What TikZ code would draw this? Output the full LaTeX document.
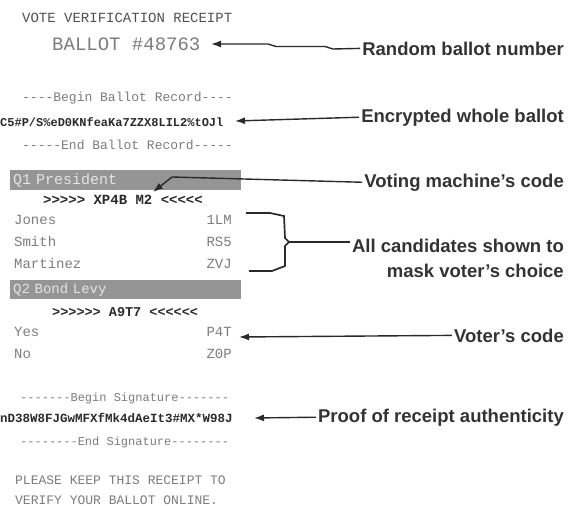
\documentclass[tikz,border=0pt]{standalone}
\usepackage{fontspec}
\setmainfont{Liberation Sans}
\setsansfont{Liberation Sans}
\setmonofont{Liberation Mono}
\usetikzlibrary{arrows.meta}
\definecolor{ink}{HTML}{7C7C7C}
\definecolor{darkink}{HTML}{2A2A2A}
\definecolor{titleink}{HTML}{505050}
\definecolor{lab}{HTML}{333333}
\definecolor{barfill}{HTML}{959595}
\definecolor{bartext}{HTML}{E4E4E4}
\tikzset{
  rc/.style={anchor=base west, inner sep=0pt, text=ink, font=\ttfamily\fontsize{#1}{#1}\selectfont},
  rcb/.style={anchor=base west, inner sep=0pt, text=darkink, font=\ttfamily\bfseries\fontsize{#1}{#1}\selectfont},
  code/.style={anchor=base east, inner sep=0pt, text=ink, font=\ttfamily\fontsize{14}{14}\selectfont},
  qbar/.style={anchor=north west, fill=barfill, text=bartext, minimum height=18pt, text width=225pt, align=left, inner sep=3pt, font=\ttfamily\fontsize{#1}{#1}\selectfont},
  lbl/.style={anchor=base east, inner sep=2pt, text=lab, font=\sffamily\bfseries\fontsize{18.5}{22}\selectfont},
  conn/.style={draw=darkink, line width=1.4pt},
  arr/.style={conn, -{Latex[length=10pt,width=7pt]}},
}
\begin{document}
\begin{tikzpicture}[x=1pt,y=-1pt]
\useasboundingbox (0,0) rectangle (574,506);
% receipt
\node[rc=14, text=titleink] (title) at (22,23) {VOTE VERIFICATION RECEIPT};
\node[rc=19] (ballot) at (52,50) {BALLOT \#48763};
\node[rc=13] (bbr) at (22,101) {----Begin Ballot Record----};
\node[rcb=12] (enc) at (0,126) {C5\#P/S\%eD0KNfeaKa7ZZX8LIL2\%tOJl};
\node[rc=13] (ebr) at (22,149) {-----End Ballot Record-----};
\node[qbar=15] (q1) at (10,170) {Q1 President};
\node[rcb=14] (mc1) at (43,204) {>{}>{}>{}>{}> XP4B M2 <{}<{}<{}<{}<};
\node[rc=14] (c1) at (14,224) {Jones};
\node[code] (k1) at (232,224) {1LM};
\node[rc=14] (c2) at (14,246) {Smith};
\node[code] (k2) at (232,246) {RS5};
\node[rc=14] (c3) at (14,268) {Martinez};
\node[code] (k3) at (232,268) {ZVJ};
\node[qbar=14] (q2) at (10,280) {Q2 Bond Levy};
\node[rcb=13.5] (mc2) at (52,316) {>{}>{}>{}>{}>{}> A9T7 <{}<{}<{}<{}<{}<};
\node[rc=14] (y1) at (14,336) {Yes};
\node[code] (p1) at (232,336) {P4T};
\node[rc=14] (y2) at (14,358) {No};
\node[code] (p2) at (232,358) {Z0P};
\node[rc=12] (bs) at (20,401) {-------Begin Signature-------};
\node[rcb=12.5] (sig) at (0,422) {nD38W8FJGwMFXfMk4dAeIt3\#MX*W98J};
\node[rc=12] (es) at (20,445) {--------End Signature--------};
\node[rc=13] (pl1) at (15,484) {PLEASE KEEP THIS RECEIPT TO};
\node[rc=13] (pl2) at (15,504) {VERIFY YOUR BALLOT ONLINE.};
% labels
\node[lbl] (lrand) at (566,55) {Random ballot number};
\node[lbl] (lenc) at (566,122) {Encrypted whole ballot};
\node[lbl] (lvote) at (566,187) {Voting machine's code};
\node[lbl] (lall) at (566,252) {All candidates shown to};
\node[lbl] (lmask) at (566,277) {mask voter's choice};
\node[lbl] (lvoter) at (566,342) {Voter's code};
\node[lbl] (lproof) at (566,422) {Proof of receipt authenticity};
% tips
\coordinate (trand) at (211,44);
\coordinate (tenc) at (235,121);
\coordinate (tvote) at (153,192);
\coordinate (tvoter) at (239,337);
\coordinate (tproof) at (254,418);
% connectors
\draw[arr] (lrand.west) -- (333,49) -- (325,46.5) -- (276,46.5) -- (268,44) -- (trand);
\draw[arr] (lenc.west) -- (tenc);
\draw[arr] (lvote.west) -- (172,177) -- (tvote);
\draw[arr] (lvoter.west) -- (tvoter);
\draw[arr] (lproof.west) -- (tproof);
% bracket
\coordinate (brtop) at (246,213);
\coordinate (brbot) at (249,271);
\draw[conn, line width=1.7pt] (brtop) -- (270,213) -- (284,216) -- (285,238) -- (289,242) -- (285,246) -- (285,266) -- (272,271) -- (brbot);
\draw[conn, line width=1.7pt] (289,242) -- (lall.west |- 0,242);
\end{tikzpicture}
\end{document}
